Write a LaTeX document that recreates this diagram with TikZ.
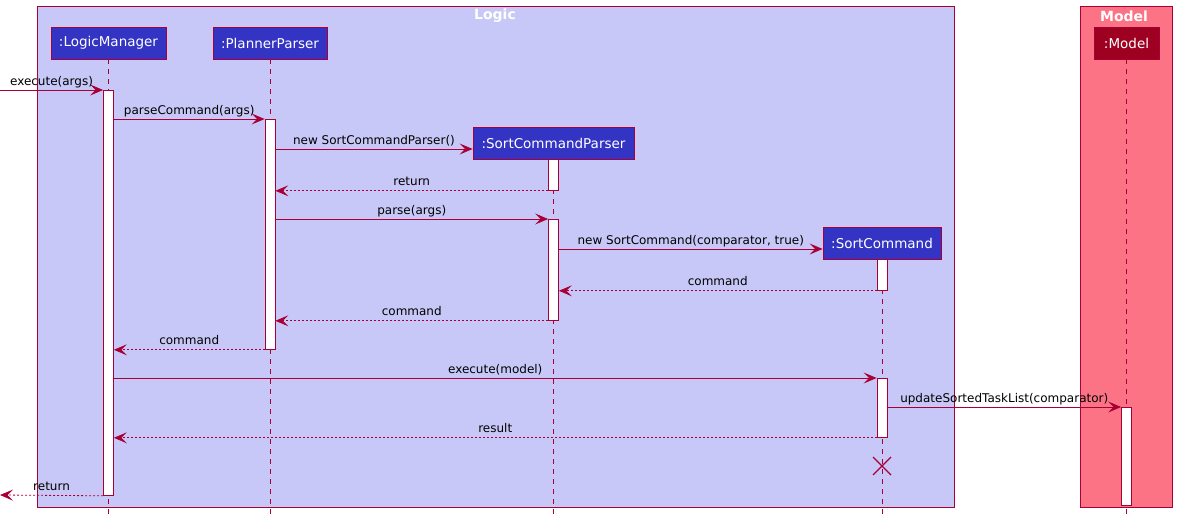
\documentclass[tikz,border=0pt]{standalone}
\usepackage{fontspec}
\setmainfont{DejaVu Sans}
\usetikzlibrary{arrows.meta,calc}
\definecolor{bord}{HTML}{A80036}
\definecolor{logicfill}{HTML}{C8C8F8}
\definecolor{modelfill}{HTML}{FB7385}
\definecolor{partblue}{HTML}{3333C4}
\definecolor{partred}{HTML}{9E0022}
\begin{document}
\begin{tikzpicture}[x=1pt,y=-1pt,
  frame/.style={draw=bord, line width=0.8pt},
  ftitle/.style={text=white, font=\fontsize{14}{16}\selectfont\bfseries},
  part/.style={draw=bord, line width=0.8pt, fill=partblue, text=white, font=\fontsize{13.5}{15}\selectfont, minimum height=32pt, inner sep=0pt},
  life/.style={draw=bord, line width=0.7pt, dash pattern=on 5pt off 5pt},
  act/.style={draw=bord, line width=0.8pt, fill=white, minimum width=10pt, inner sep=0pt, anchor=north},
  msg/.style={draw=bord, line width=0.8pt, -{Stealth[length=13pt,width=11pt,inset=5.5pt]}},
  ret/.style={msg, dash pattern=on 2pt off 2pt},
  lbl/.style={midway, above=0.5pt, text=black, font=\fontsize{12}{14}\selectfont, inner sep=1pt, text height=9pt, text depth=3pt}
]
\useasboundingbox (0,0) rectangle (1177,519);
% frames
\path[frame, fill=logicfill] (37,6) rectangle (954,507);
\path[frame, fill=modelfill] (1080,6) rectangle (1172,507);
\node[ftitle] (tlogic) at (495,16) {Logic};
\node[ftitle] (tmodel) at (1124,16) {Model};
% participants
\node[part, minimum width=115pt] (lm) at (108.5,43) {:LogicManager};
\node[part, minimum width=114pt] (pp) at (270,43) {:PlannerParser};
\node[part, minimum width=161pt] (scp) at (553.5,143) {:SortCommandParser};
\node[part, minimum width=118pt] (sc) at (882,243) {:SortCommand};
\node[part, minimum width=65pt, fill=partred] (md) at (1126.5,43) {:Model};
% lifelines
\coordinate (lmend) at (108.5,514);
\coordinate (ppend) at (270,514);
\coordinate (scpend) at (553.5,514);
\coordinate (scend) at (882,514);
\coordinate (mdend) at (1126.5,514);
\draw[life] (lm.south) -- (lmend);
\draw[life] (pp.south) -- (ppend);
\draw[life] (scp.south) -- (scpend);
\draw[life] (sc.south) -- (scend);
\draw[life] (md.south) -- (mdend);
% activations
\node[act, minimum height=405pt] (a1) at (108.5,90) {};
\node[act, minimum height=230pt] (a2) at (270,119) {};
\node[act, minimum height=31pt] (a3) at (553.5,159) {};
\node[act, minimum height=101pt] (a4) at (553.5,219) {};
\node[act, minimum height=31pt] (a5) at (882,259) {};
\node[act, minimum height=59pt] (a6) at (882,378) {};
\node[act, minimum height=98pt] (a7) at (1126.5,407) {};
% messages
\coordinate (src) at (0,90);
\coordinate (dst) at (0,495);
\coordinate (y3) at (0,149);
\coordinate (y6) at (0,249);
\draw[msg] (src) -- (a1.north west) node[lbl] {execute(args)};
\draw[msg] (a1.east |- a2.north) -- (a2.north west) node[lbl] {parseCommand(args)};
\draw[msg] (a2.east |- y3) -- (scp.west |- y3) node[lbl] {new SortCommandParser()};
\draw[ret] (a3.south west) -- (a2.east |- a3.south) node[lbl] {return};
\draw[msg] (a2.east |- a4.north) -- (a4.north west) node[lbl] {parse(args)};
\draw[msg] (a4.east |- y6) -- (sc.west |- y6) node[lbl] {new SortCommand(comparator, true)};
\draw[ret] (a5.south west) -- (a4.east |- a5.south) node[lbl] {command};
\draw[ret] (a4.south west) -- (a2.east |- a4.south) node[lbl] {command};
\draw[ret] (a2.south west) -- (a1.east |- a2.south) node[lbl] {command};
\draw[msg] (a1.east |- a6.north) -- (a6.north west) node[lbl] {execute(model)};
\draw[msg] (a6.east |- a7.north) -- (a7.north west) node[lbl] {updateSortedTaskList(comparator)};
\draw[ret] (a6.south west) -- (a1.east |- a6.south) node[lbl] {result};
\draw[ret] (a1.south west) -- (dst) node[lbl] {return};
% destroy
\coordinate (xc) at (882,466);
\draw[draw=bord, line width=1.2pt] ($(xc)+(-9,-9)$) -- ($(xc)+(9,9)$) ($(xc)+(-9,9)$) -- ($(xc)+(9,-9)$);
\end{tikzpicture}
\end{document}
